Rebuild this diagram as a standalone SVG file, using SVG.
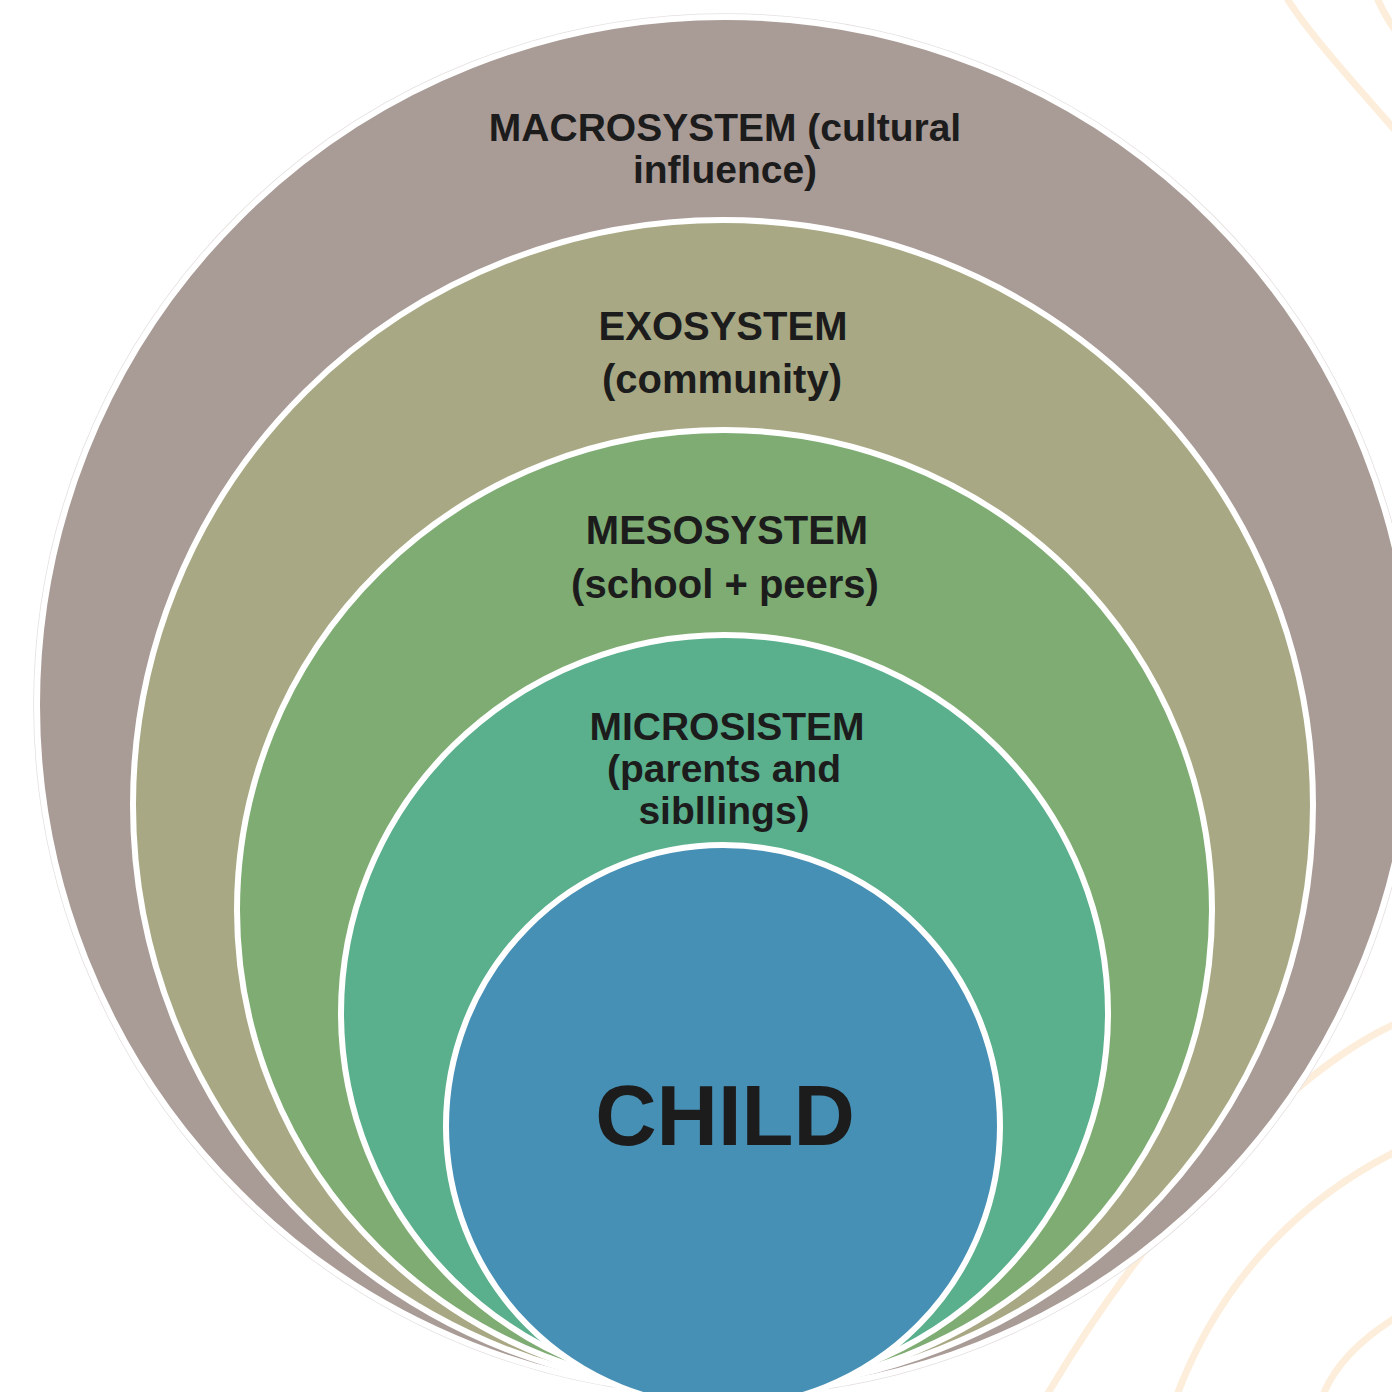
<svg xmlns="http://www.w3.org/2000/svg" width="1392" height="1392" viewBox="0 0 1392 1392">
<style>
.ring{stroke:#FFFFFF;stroke-width:6}
.lbl{font-family:"Liberation Sans",Arial,sans-serif;font-weight:bold;fill:#1C1C1C;text-anchor:middle}
.deco{fill:none;stroke:#FDEEDC;stroke-width:7;stroke-linecap:round}
</style>
<rect width="1392" height="1392" fill="#FFFFFF"/>
<g id="decoration">
<path class="deco" d="M1288,0 C1310,35 1360,90 1395,130"/>
<path class="deco" d="M1378,0 Q1384,14 1395,30"/>
<path class="deco" d="M1395,1024 C1290,1072 1150,1220 1047,1395"/>
<path class="deco" d="M1395,1152 C1300,1200 1220,1280 1177,1395"/>
<path class="deco" d="M1395,1318 C1360,1340 1335,1365 1323,1395"/>
</g>
<g id="macrosystem">
<circle cx="725" cy="705" r="691" fill="none" stroke="#E4E0DF" stroke-width="1.5"/>
<circle class="ring" cx="725" cy="705" r="688" fill="#A99B96"/>
<text class="lbl" x="725" y="141" font-size="39">MACROSYSTEM (cultural</text>
<text class="lbl" x="725" y="183" font-size="39">influence)</text>
</g>
<g id="exosystem">
<ellipse class="ring" cx="723" cy="805" rx="590" ry="585" fill="#A8A984"/>
<text class="lbl" x="723" y="340" font-size="40">EXOSYSTEM</text>
<text class="lbl" x="722" y="393" font-size="40">(community)</text>
</g>
<g id="mesosystem">
<ellipse class="ring" cx="724.5" cy="910" rx="487.5" ry="480" fill="#7EAC73"/>
<text class="lbl" x="727" y="544" font-size="40">MESOSYSTEM</text>
<text class="lbl" x="725" y="598" font-size="40">(school + peers)</text>
</g>
<g id="microsystem">
<ellipse class="ring" cx="724.5" cy="1013" rx="383.5" ry="378" fill="#5AAF8C"/>
<text class="lbl" x="727" y="740" font-size="39">MICROSISTEM</text>
<text class="lbl" x="724" y="782" font-size="39">(parents and</text>
<text class="lbl" x="724" y="824" font-size="39">sibllings)</text>
</g>
<g id="child">
<ellipse class="ring" cx="723" cy="1126" rx="277" ry="281" fill="#4790B5"/>
<text class="lbl" x="725" y="1145" font-size="85">CHILD</text>
</g>
<g id="connectors"/>
</svg>
